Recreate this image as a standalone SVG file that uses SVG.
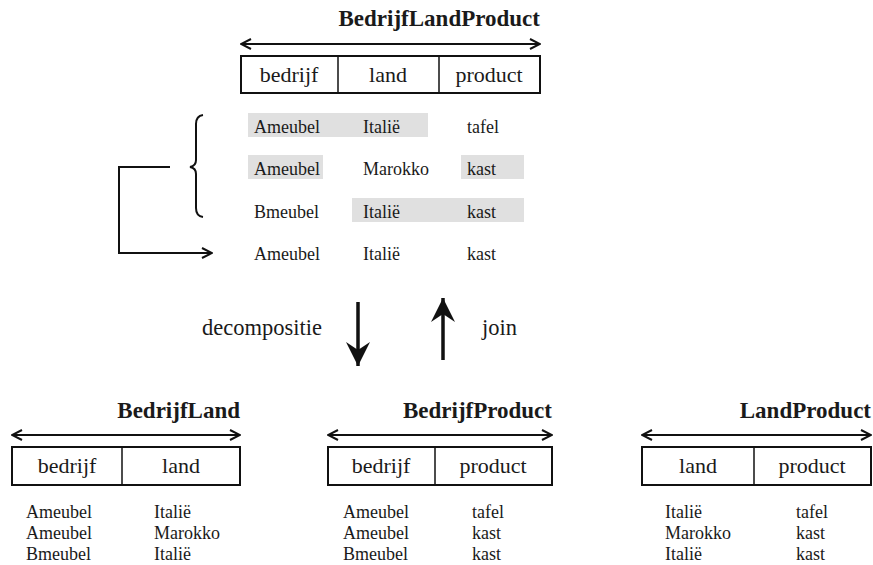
<svg xmlns="http://www.w3.org/2000/svg" width="873" height="565" viewBox="0 0 873 565">
  <style>
    text { font-family: 'Liberation Serif', 'Times New Roman', serif; fill: #1a1a1a; }
    .title { font-size: 23px; font-weight: bold; text-anchor: end; }
    .head { font-size: 22px; text-anchor: middle; }
    .cell { font-size: 18px; }
    .lbl { font-size: 22.5px; }
    .box { fill: none; stroke: #111; stroke-width: 2; }
    .div { stroke: #111; stroke-width: 1.5; }
    .span { stroke: #111; stroke-width: 2; fill: none; }
    .hl { fill: #e0e0e0; }
    .line { stroke: #111; stroke-width: 2; fill: none; }
  </style>
  <defs>
    <marker id="chev" viewBox="0 0 12 12" refX="11" refY="6" markerWidth="12" markerHeight="12" markerUnits="userSpaceOnUse" orient="auto-start-reverse">
      <path d="M1,1 L11,6 L1,11" fill="none" stroke="#111" stroke-width="2"/>
    </marker>
    <marker id="bold" viewBox="0 0 26 24" refX="24" refY="12" markerWidth="26" markerHeight="24" markerUnits="userSpaceOnUse" orient="auto">
      <path d="M0,0 L24,12 L0,24 L8,12 Z" fill="#111"/>
    </marker>
  </defs>

  <!-- combined relation -->
  <g id="bedrijfLandProduct">
    <text class="title" x="540" y="26">BedrijfLandProduct</text>
    <line class="span" x1="241" y1="44" x2="540" y2="44" marker-start="url(#chev)" marker-end="url(#chev)"/>
    <rect class="box" x="241" y="56" width="299" height="37"/>
    <line class="div" x1="338" y1="56" x2="338" y2="93"/>
    <line class="div" x1="439" y1="56" x2="439" y2="93"/>
    <text class="head" x="289" y="82">bedrijf</text>
    <text class="head" x="388" y="82">land</text>
    <text class="head" x="489" y="82">product</text>
  </g>

  <!-- tuples of the combined relation -->
  <g id="tuples">
    <rect class="hl" x="248" y="113" width="180" height="24"/>
    <rect class="hl" x="248" y="155" width="75" height="24"/>
    <rect class="hl" x="461" y="155" width="63" height="24"/>
    <rect class="hl" x="352" y="198" width="172" height="24"/>
    <text class="cell" x="254" y="133">Ameubel</text>
    <text class="cell" x="363" y="133">Italië</text>
    <text class="cell" x="467" y="133">tafel</text>
    <text class="cell" x="254" y="175">Ameubel</text>
    <text class="cell" x="363" y="175">Marokko</text>
    <text class="cell" x="467" y="175">kast</text>
    <text class="cell" x="254" y="218">Bmeubel</text>
    <text class="cell" x="363" y="218">Italië</text>
    <text class="cell" x="467" y="218">kast</text>
    <text class="cell" x="254" y="260">Ameubel</text>
    <text class="cell" x="363" y="260">Italië</text>
    <text class="cell" x="467" y="260">kast</text>
  </g>

  <!-- connectors -->
  <g id="connectors">
    <path class="line" d="M203,115 Q196,116 196,124 L196,160 Q196,166 190,167 Q196,168 196,174 L196,208 Q196,216 203,217" stroke-width="1.8"/>
    <path class="line" d="M170,167 L119,167 L119,253 L212,253" marker-end="url(#chev)"/>
    <line x1="358" y1="302" x2="358" y2="366" stroke="#111" stroke-width="3.5" marker-end="url(#bold)"/>
    <line x1="443" y1="360" x2="443" y2="298" stroke="#111" stroke-width="3.5" marker-end="url(#bold)"/>
  </g>

  <text class="lbl" x="322" y="335" text-anchor="end">decompositie</text>
  <text class="lbl" x="482" y="335">join</text>

  <!-- projection: bedrijf, land -->
  <g id="bedrijfLand">
    <text class="title" x="240" y="418">BedrijfLand</text>
    <line class="span" x1="12" y1="435" x2="240" y2="435" marker-start="url(#chev)" marker-end="url(#chev)"/>
    <rect class="box" x="12" y="447" width="228" height="38"/>
    <line class="div" x1="122" y1="447" x2="122" y2="485"/>
    <text class="head" x="67" y="473">bedrijf</text>
    <text class="head" x="181" y="473">land</text>
    <text class="cell" x="26" y="518">Ameubel</text>
    <text class="cell" x="26" y="539">Ameubel</text>
    <text class="cell" x="26" y="560">Bmeubel</text>
    <text class="cell" x="154" y="518">Italië</text>
    <text class="cell" x="154" y="539">Marokko</text>
    <text class="cell" x="154" y="560">Italië</text>
  </g>

  <!-- projection: bedrijf, product -->
  <g id="bedrijfProduct">
    <text class="title" x="552" y="418">BedrijfProduct</text>
    <line class="span" x1="328" y1="435" x2="552" y2="435" marker-start="url(#chev)" marker-end="url(#chev)"/>
    <rect class="box" x="328" y="447" width="224" height="38"/>
    <line class="div" x1="435" y1="447" x2="435" y2="485"/>
    <text class="head" x="381" y="473">bedrijf</text>
    <text class="head" x="493" y="473">product</text>
    <text class="cell" x="343" y="518">Ameubel</text>
    <text class="cell" x="343" y="539">Ameubel</text>
    <text class="cell" x="343" y="560">Bmeubel</text>
    <text class="cell" x="472" y="518">tafel</text>
    <text class="cell" x="472" y="539">kast</text>
    <text class="cell" x="472" y="560">kast</text>
  </g>

  <!-- projection: land, product -->
  <g id="landProduct">
    <text class="title" x="871" y="418">LandProduct</text>
    <line class="span" x1="642" y1="435" x2="871" y2="435" marker-start="url(#chev)" marker-end="url(#chev)"/>
    <rect class="box" x="642" y="447" width="229" height="38"/>
    <line class="div" x1="754" y1="447" x2="754" y2="485"/>
    <text class="head" x="698" y="473">land</text>
    <text class="head" x="812" y="473">product</text>
    <text class="cell" x="665" y="518">Italië</text>
    <text class="cell" x="665" y="539">Marokko</text>
    <text class="cell" x="665" y="560">Italië</text>
    <text class="cell" x="796" y="518">tafel</text>
    <text class="cell" x="796" y="539">kast</text>
    <text class="cell" x="796" y="560">kast</text>
  </g>
</svg>
